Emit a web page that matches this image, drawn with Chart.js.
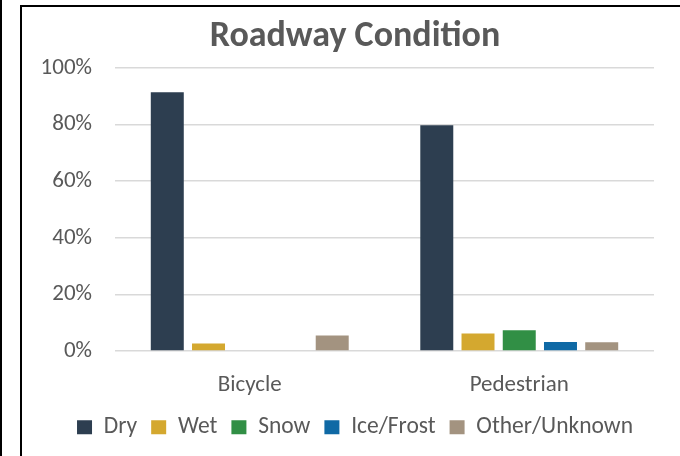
<!DOCTYPE html>
<html>
<head>
<meta charset="utf-8">
<script src="https://cdn.jsdelivr.net/npm/chart.js@4"></script>
<style>
    html, body { margin: 0; padding: 0; background: #fff; width: 680px; height: 456px; overflow: hidden; }
    #edge { position: absolute; left: 0; top: 0; width: 2px; height: 456px; background: #000; }
    #frame { position: absolute; left: 20px; top: 5px; width: 680px; height: 470px; border: 2px solid #000; background: #fff; }
    #wrap { position: absolute; left: 0; top: 0; width: 658px; height: 449px; }
</style>
</head>
<body>
<div id="edge"></div>
<div id="frame"><div id="wrap"><canvas id="roadway-chart"></canvas></div></div>
<script>
// values, in percent
const categories = ['Bicycle', 'Pedestrian'];
const seriesNames = ['Dry', 'Wet', 'Snow', 'Ice/Frost', 'Other/Unknown'];
const dryValues = [91.4, 79.8];
const wetValues = [2.7, 6.2];
const snowValues = [0, 7.4];
const iceValues = [0, 3.2];
const otherValues = [5.5, 3.1];
const yTicks = [0, 20, 40, 60, 80, 100];

const colors = ['#2D3E50', '#D4A82F', '#318F45', '#0F69A5', '#A39380'];
const textColor = '#595959';
const fontFamily = "Carlito, Calibri, Lato, sans-serif";

const seriesValues = [dryValues, wetValues, snowValues, iceValues, otherValues];

new Chart(document.getElementById('roadway-chart').getContext('2d'), {
    type: 'bar',
    data: {
        labels: categories,
        datasets: seriesNames.map((name, i) => ({
            label: name,
            data: seriesValues[i],
            backgroundColor: colors[i],
            borderWidth: 0,
            categoryPercentage: 0.765,
            barPercentage: 0.8
        }))
    },
    options: {
        responsive: true,
        maintainAspectRatio: false,
        animation: false,
        layout: { padding: { left: 19, right: 11, top: 0, bottom: 7 } },
        scales: {
            y: {
                min: 0, max: 100,
                afterBuildTicks: axis => { axis.ticks = yTicks.map(v => ({ value: v })); },
                afterFit: axis => { axis.width = 74; },
                grid: { color: '#D9D9D9', lineWidth: 1.5, drawTicks: false },
                border: { display: false },
                ticks: { color: textColor, padding: 23, font: { family: fontFamily, size: 23 }, callback: v => v + '%' }
            },
            // empty spacer on the right so the title and legend sit where the original has them
            spacer: {
                type: 'linear',
                position: 'right',
                afterFit: axis => { axis.width = 15; },
                grid: { display: false, drawTicks: false },
                border: { display: false },
                ticks: { display: false }
            },
            x: {
                afterFit: axis => { axis.height = 50.4; },
                grid: { display: false, drawTicks: false },
                border: { display: false },
                ticks: { color: textColor, padding: 20, font: { family: fontFamily, size: 23 } }
            }
        },
        plugins: {
            title: {
                display: true,
                text: 'Roadway Condition',
                color: textColor,
                font: { family: fontFamily, size: 36, weight: 'bold' },
                padding: { top: 8, bottom: 9.8 }
            },
            legend: {
                position: 'bottom',
                labels: { color: textColor, boxWidth: 15, boxHeight: 14, padding: 14, font: { family: fontFamily, size: 23.5 } }
            },
            tooltip: { enabled: false }
        }
    }
});
</script>
</body>
</html>
